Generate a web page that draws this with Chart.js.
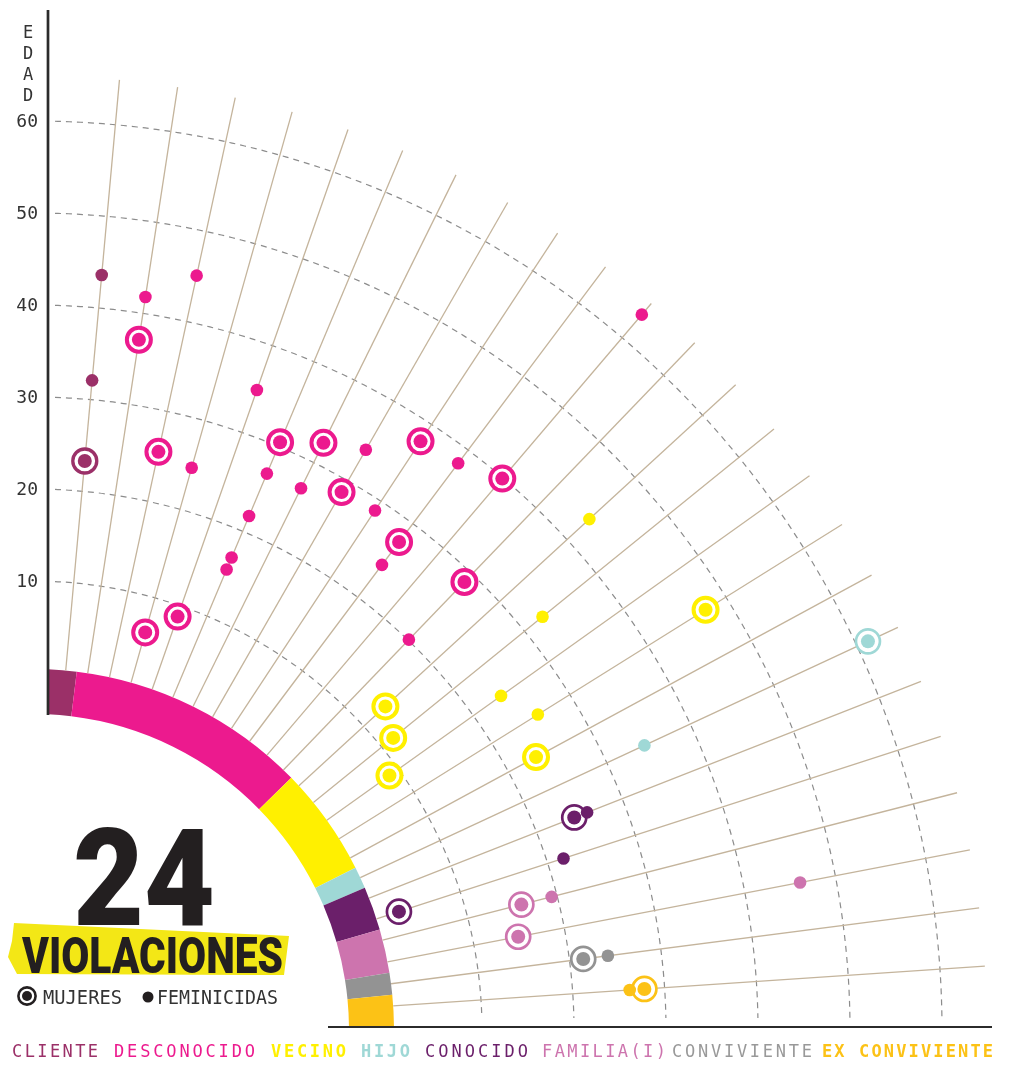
<!DOCTYPE html>
<html>
<head>
<meta charset="utf-8">
<script src="https://cdn.jsdelivr.net/npm/chart.js@4.4.1/dist/chart.umd.min.js"></script>
<style>
html,body{margin:0;padding:0;background:#fff;}
#wrap{position:relative;width:1012px;height:1066px;overflow:hidden;}
#c{position:absolute;left:0;top:0;}
#over{position:absolute;left:0;top:0;}
</style>
</head>
<body>
<div id="wrap">
<canvas id="c" width="1012" height="1066"></canvas>
<svg id="over" width="1012" height="1066" xmlns="http://www.w3.org/2000/svg">
  <polygon points="14,923 289,936 284,975 17,974 8,957 12,941" fill="#f3e716"/>
  <text x="73" y="925" font-family="Roboto" font-weight="900" font-size="136" textLength="142" lengthAdjust="spacingAndGlyphs" fill="#231f20">24</text>
  <text x="22" y="973" font-family="Roboto" font-weight="900" font-size="50" textLength="261" lengthAdjust="spacingAndGlyphs" fill="#231f20">VIOLACIONES</text>
  <circle cx="27" cy="996" r="8.6" fill="none" stroke="#231f20" stroke-width="2.6"/>
  <circle cx="27" cy="996" r="5" fill="#231f20"/>
  <text x="43" y="1004" font-family="DejaVu Sans Mono" font-size="20" textLength="79" lengthAdjust="spacingAndGlyphs" fill="#333">MUJERES</text>
  <circle cx="148" cy="997" r="5.5" fill="#231f20"/>
  <text x="157" y="1004" font-family="DejaVu Sans Mono" font-size="20" textLength="121" lengthAdjust="spacingAndGlyphs" fill="#333">FEMINICIDAS</text>
  <g id="leyenda" font-family="DejaVu Sans Mono" font-size="17"></g>
</svg>
</div>
<script>
// categorias (relacion con el agresor) y cuantas mujeres en cada una
var CATEGORIAS=['CLIENTE','DESCONOCIDO','VECINO','HIJO','CONOCIDO','FAMILIA(I)','CONVIVIENTE','EX CONVIVIENTE'];
var COLORES=['#9b3068','#ec1a8e','#fff000','#9fd8d6','#6b1f6a','#cd74ae','#939393','#fcc216'];
var MUJERES_POR_CAT=[1,11,5,1,2,2,1,1];
// edad de cada mujer, un caso por radio
var EDAD_MUJERES=[23.3,37.1,25.5,6.1,8.8,30.5,32.4,28.6,37.8,27.5,39.9,28.8,13.2,11.6,8.8,47.4,23.4,61.3,24.4,3.0,16.0,14.9,21.5,27.8];
// feminicidas: caso (radio) y edad
var FEM_CASO=[0,0,1,2,3,4,5,5,5,5,6,7,8,9,9,10,11,12,13,14,15,17,18,19,20,21,22,23];
var FEM_EDAD=[43.6,32.1,41.8,45.1,24.7,34.9,26.8,21.8,16.9,15.5,26.9,33.9,28.8,24.4,38.2,63.3,20.1,43.3,32.5,23.7,25.9,34.5,25.9,21.8,19.4,46.1,24.2,26.2];
var EDAD_TICKS=[10,20,30,40,50,60];

// escala polar: angulo por caso, radio por edad
var ANG0=5.2, PASO=3.52, R_EDAD0=357, PX_ANO=9.2;
var R_IN=316, R_OUT=361, R_FIN=954;
function ang(i){return (ANG0+PASO*i)*Math.PI/180;}
function radio(e){return R_EDAD0+PX_ANO*e;}
function pt(i,r){return {x:r*Math.sin(ang(i)),y:r*Math.cos(ang(i))};}

var catCaso=[];
MUJERES_POR_CAT.forEach(function(n,c){for(var k=0;k<n;k++)catCaso.push(c);});
var BORDE_CAT=[3.3,4,4,2.7,2.7,2.7,2.7,2.7];

var datasets=[];
catCaso.forEach(function(c,i){
    datasets.push({data:[pt(i,R_OUT),pt(i,R_FIN)],showLine:true,borderColor:'#c4b49c',borderWidth:1.3,pointRadius:0,order:5});
});
datasets.push({
    data:EDAD_MUJERES.map(function(e,i){return pt(i,radio(e));}),
    pointRadius:12,
    pointBorderWidth:catCaso.map(function(c){return BORDE_CAT[c];}),
    pointBackgroundColor:'#fff',
    pointBorderColor:catCaso.map(function(c){return COLORES[c];}),
    order:2
});
datasets.push({
    data:EDAD_MUJERES.map(function(e,i){return pt(i,radio(e));}),
    pointRadius:7,pointBorderWidth:0,
    pointBackgroundColor:catCaso.map(function(c){return COLORES[c];}),
    order:1
});
datasets.push({
    data:FEM_EDAD.map(function(e,k){return pt(FEM_CASO[k],radio(e));}),
    pointRadius:6.3,pointBorderWidth:0,
    pointBackgroundColor:FEM_CASO.map(function(i){return COLORES[catCaso[i]];}),
    order:0
});

var fondo={
    id:'fondo',
    beforeDatasetsDraw:function(ch){
        var ctx=ch.ctx, xs=ch.scales.x, ys=ch.scales.y;
        var cx=xs.getPixelForValue(0), cy=ys.getPixelForValue(0);
        var rp=function(r){return xs.getPixelForValue(r)-cx;};
        var ejeX=xs.getPixelForValue(15), ejeY=ys.getPixelForValue(3);
        var Q=Math.PI/2, D=Math.PI/180;
        ctx.save();
        // arcos de edad
        ctx.strokeStyle='#8c8c8c';ctx.lineWidth=1.2;ctx.setLineDash([6,5]);
        EDAD_TICKS.forEach(function(e){
            var r=rp(radio(e));
            ctx.beginPath();
            ctx.arc(cx,cy,r,Math.asin(22/r)-Q,Math.acos(12/r)-Q);
            ctx.stroke();
        });
        ctx.setLineDash([]);
        // anillo de categorias
        ctx.save();
        ctx.beginPath();ctx.rect(ejeX,0,ch.width,ejeY);ctx.clip();
        var cum=0;
        MUJERES_POR_CAT.forEach(function(n,c){
            var a1=c===0?0:ANG0+PASO*(cum-0.5);
            cum+=n;
            var a2=c===MUJERES_POR_CAT.length-1?90:ANG0+PASO*(cum-0.5);
            ctx.beginPath();
            ctx.arc(cx,cy,rp(R_OUT),a1*D-Q,a2*D-Q);
            ctx.arc(cx,cy,rp(R_IN),a2*D-Q,a1*D-Q,true);
            ctx.closePath();
            ctx.fillStyle=COLORES[c];ctx.fill();
        });
        ctx.restore();
        // ejes
        ctx.strokeStyle='#2b2b2b';ctx.lineWidth=2.7;
        ctx.beginPath();ctx.moveTo(ejeX,ys.getPixelForValue(1020));ctx.lineTo(ejeX,ys.getPixelForValue(R_IN-1));ctx.stroke();
        ctx.lineWidth=2.2;
        ctx.beginPath();ctx.moveTo(xs.getPixelForValue(295),ejeY);ctx.lineTo(xs.getPixelForValue(959),ejeY);ctx.stroke();
        // etiquetas de edad
        ctx.fillStyle='#333';ctx.font='18px "DejaVu Sans Mono"';ctx.textAlign='right';ctx.textBaseline='middle';
        EDAD_TICKS.forEach(function(e){
            var r=radio(e);
            ctx.fillText(String(e),ejeX-10,ys.getPixelForValue(Math.sqrt(r*r-225))+1);
        });
        ctx.font='17px "DejaVu Sans Mono"';ctx.textAlign='center';
        'EDAD'.split('').forEach(function(l,k){ctx.fillText(l,28,34+k*21);});
        ctx.restore();
    }
};

new Chart(document.getElementById('c'),{
    type:'scatter',
    data:{datasets:datasets},
    options:{
        responsive:false,devicePixelRatio:1,animation:false,events:[],
        layout:{padding:0,autoPadding:false},
        scales:{
            x:{type:'linear',min:-33,max:979,display:false},
            y:{type:'linear',min:-36,max:1030,display:false}
        },
        plugins:{legend:{display:false},tooltip:{enabled:false}}
    },
    plugins:[fondo]
});

// leyenda inferior
var LEY_X=[12,114,271,361,425,542,672,822];
var LEY_W=[86,141,75,49,103,124,140,171];
var LEY_BOLD=[false,false,true,true,false,false,false,true];
var g=document.getElementById('leyenda');
CATEGORIAS.forEach(function(t,k){
    var el=document.createElementNS('http://www.w3.org/2000/svg','text');
    el.setAttribute('x',LEY_X[k]);el.setAttribute('y',1057);
    el.setAttribute('textLength',LEY_W[k]);el.setAttribute('lengthAdjust','spacing');
    el.setAttribute('fill',k===6?'#999':COLORES[k]);
    if(LEY_BOLD[k])el.setAttribute('font-weight','bold');
    el.textContent=t;
    g.appendChild(el);
});
</script>
</body>
</html>
